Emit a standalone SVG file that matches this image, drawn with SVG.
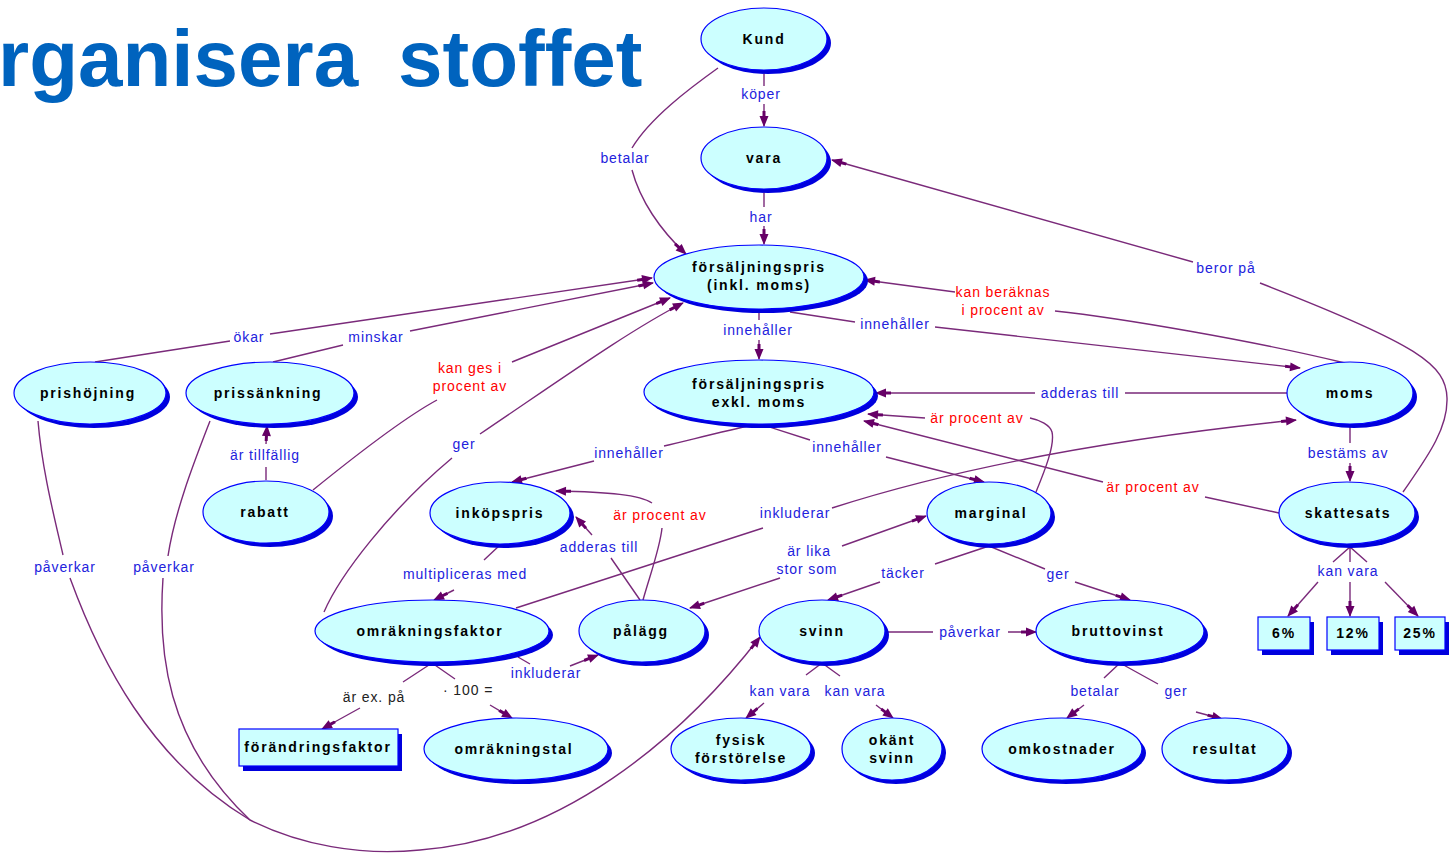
<svg xmlns="http://www.w3.org/2000/svg" width="1452" height="854" viewBox="0 0 1452 854">
<defs>
<marker id="a" viewBox="0 0 16 11" refX="15" refY="5.5" markerWidth="16" markerHeight="11" orient="auto" markerUnits="userSpaceOnUse"><path d="M0,4 L5,4 L5,1 L16,5.5 L5,10 L5,7 L0,7 z" fill="#660066"/></marker>
</defs>
<style>
.sh{fill:#0000dd}
.bg{fill:#ccffff;stroke:#0000ff;stroke-width:1.2}
.t{font-family:"Liberation Sans",Arial,sans-serif;font-weight:bold;font-size:14px;letter-spacing:1.8px;text-anchor:middle;fill:#000}
.l{font-family:"Liberation Sans",Arial,sans-serif;font-size:14px;letter-spacing:0.9px;text-anchor:middle;fill:#2222dd}
.r{fill:#ff0000}
.k{fill:#222}
.c path{fill:none;stroke:#7a2a7a;stroke-width:1.4}
.c path.m{marker-end:url(#a)}
.title{font-family:"Liberation Sans",Arial,sans-serif;font-weight:bold;font-size:80px;fill:#0063be}
</style>
<rect width="1452" height="854" fill="#fff"/>
<text class="title" x="-2" y="86">rganisera</text>
<text class="title" x="398" y="86">stoffet</text>

<g class="c" id="connectors">
<path class="m" d="M764,70 L764,86 M764,104 L764,126"/>
<path class="m" d="M718,68 C690,88 650,118 632,148 M632,170 C640,200 660,230 686,254"/>
<path class="m" d="M764,190 L764,207 M764,226 L764,244"/>
<path class="m" d="M759,309 L759,320 M759,340 L759,359"/>
<path class="m" d="M790,312 L855,322 M935,327 L1300,368"/>
<path class="m" d="M1345,363 C1250,340 1120,318 1055,311 M955,292 L865,280"/>
<path class="m" d="M1403,492 C1425,460 1448,430 1447,398 C1446,365 1420,345 1260,283 M1193,262 L832,160"/>
<path class="m" d="M1287,393 L1125,393 M1035,393 L876,393"/>
<path class="m" d="M1036,492 C1045,470 1055,445 1052,432 C1050,425 1040,420 1030,418 M925,418 L868,414"/>
<path class="m" d="M1279,513 L1205,497 M1103,482 L864,421"/>
<path class="m" d="M1350,425 L1350,443 M1350,463 L1350,481"/>
<path d="M1333,562 L1350,547 L1367,562 M1350,547 L1350,562"/>
<path class="m" d="M1318,582 L1288,616"/>
<path class="m" d="M1350,582 L1350,616"/>
<path class="m" d="M1385,582 L1418,616"/>
<path class="m" d="M757,424 C720,432 690,440 664,446 M594,461 L512,482"/>
<path class="m" d="M760,424 L810,440 M886,457 L984,482"/>
<path class="m" d="M643,600 C650,575 660,548 662,528 M652,503 C640,495 610,492 556,491"/>
<path class="m" d="M640,600 L611,558 M592,535 L576,517"/>
<path class="m" d="M516,608 L763,528 M832,508 C950,470 1100,440 1296,420"/>
<path class="m" d="M500,545 L484,560 M454,590 L434,600"/>
<path class="m" d="M324,612 C340,575 390,510 452,458 M480,434 C560,380 630,330 683,303"/>
<path class="m" d="M313,490 C350,460 400,420 437,400 M512,362 L670,298"/>
<path class="m" d="M95,362 L230,341 M270,334 L652,278"/>
<path class="m" d="M273,362 L343,345 M410,331 L653,283"/>
<path class="m" d="M266,480 L266,467 M266,444 L267,426"/>
<path class="m" d="M38,421 C42,470 55,520 63,555 M70,578 C100,660 150,760 250,820 C300,845 360,856 420,850 C560,840 680,740 760,637"/>
<path d="M210,421 C195,460 175,510 168,556 M163,578 C158,650 165,740 250,820"/>
<path class="m" d="M886,632 L933,632 M1008,632 L1036,632"/>
<path class="m" d="M989,546 L935,564 M880,582 L828,600"/>
<path class="m" d="M989,546 L1045,569 M1075,582 L1130,600"/>
<path class="m" d="M842,546 L926,516"/>
<path class="m" d="M780,578 L690,608"/>
<path class="m" d="M518,657 L530,664 M570,666 L598,655"/>
<path class="m" d="M432,663 L403,682 M360,708 L322,729"/>
<path class="m" d="M432,663 L455,679 M490,705 L512,718"/>
<path class="m" d="M822,663 L806,675 M764,703 L746,718"/>
<path class="m" d="M822,663 L840,676 M876,705 L893,718"/>
<path class="m" d="M1120,663 L1104,678 M1084,705 L1067,718"/>
<path class="m" d="M1120,663 L1158,684 M1196,712 L1222,719"/>
</g>

<g id="link-labels">
<text class="l" x="761" y="99">köper</text>
<text class="l" x="625" y="163">betalar</text>
<text class="l" x="761" y="222">har</text>
<text class="l" x="758" y="335">innehåller</text>
<text class="l" x="895" y="329">innehåller</text>
<text class="l r" x="1003" y="297">kan beräknas</text>
<text class="l r" x="1003" y="315">i procent av</text>
<text class="l" x="1226" y="273">beror på</text>
<text class="l" x="1080" y="398">adderas till</text>
<text class="l r" x="977" y="423">är procent av</text>
<text class="l r" x="1153" y="492">är procent av</text>
<text class="l" x="1348" y="458">bestäms av</text>
<text class="l" x="1348" y="576">kan vara</text>
<text class="l" x="629" y="458">innehåller</text>
<text class="l" x="847" y="452">innehåller</text>
<text class="l r" x="660" y="520">är procent av</text>
<text class="l" x="599" y="552">adderas till</text>
<text class="l" x="795" y="518">inkluderar</text>
<text class="l" x="465" y="579">multipliceras med</text>
<text class="l" x="464" y="449">ger</text>
<text class="l r" x="470" y="373">kan ges i</text>
<text class="l r" x="470" y="391">procent av</text>
<text class="l" x="249" y="342">ökar</text>
<text class="l" x="376" y="342">minskar</text>
<text class="l" x="265" y="460">är tillfällig</text>
<text class="l" x="65" y="572">påverkar</text>
<text class="l" x="164" y="572">påverkar</text>
<text class="l" x="970" y="637">påverkar</text>
<text class="l" x="903" y="578">täcker</text>
<text class="l" x="1058" y="579">ger</text>
<text class="l" x="809" y="556">är lika</text>
<text class="l" x="807" y="574">stor som</text>
<text class="l" x="546" y="678">inkluderar</text>
<text class="l k" x="374" y="702">är ex. på</text>
<text class="l k" x="443" y="695" style="text-anchor:start">·  100 =</text>
<text class="l" x="780" y="696">kan vara</text>
<text class="l" x="855" y="696">kan vara</text>
<text class="l" x="1095" y="696">betalar</text>
<text class="l" x="1176" y="696">ger</text>
</g>

<g id="kund"><ellipse class="sh" cx="768" cy="43" rx="63" ry="31"/><ellipse class="bg" cx="764" cy="39" rx="63" ry="31"/><text class="t" x="764" y="44">Kund</text></g>
<g id="vara"><ellipse class="sh" cx="768" cy="162" rx="63" ry="31"/><ellipse class="bg" cx="764" cy="158" rx="63" ry="31"/><text class="t" x="764" y="163">vara</text></g>
<g id="fp-inkl"><ellipse class="sh" cx="763" cy="281" rx="105" ry="32"/><ellipse class="bg" cx="759" cy="277" rx="105" ry="32"/><text class="t" x="759" y="272">försäljningspris</text><text class="t" x="759" y="290">(inkl. moms)</text></g>
<g id="fp-exkl"><ellipse class="sh" cx="763" cy="396" rx="115" ry="32"/><ellipse class="bg" cx="759" cy="392" rx="115" ry="32"/><text class="t" x="759" y="389">försäljningspris</text><text class="t" x="759" y="407">exkl. moms</text></g>
<g id="prishojning"><ellipse class="sh" cx="94" cy="397" rx="76" ry="31"/><ellipse class="bg" cx="90" cy="393" rx="76" ry="31"/><text class="t" x="88" y="398">prishöjning</text></g>
<g id="prissankning"><ellipse class="sh" cx="274" cy="397" rx="84" ry="31"/><ellipse class="bg" cx="270" cy="393" rx="84" ry="31"/><text class="t" x="268" y="398">prissänkning</text></g>
<g id="moms"><ellipse class="sh" cx="1354" cy="397" rx="63" ry="31"/><ellipse class="bg" cx="1350" cy="393" rx="63" ry="31"/><text class="t" x="1350" y="398">moms</text></g>
<g id="rabatt"><ellipse class="sh" cx="270" cy="516" rx="63" ry="31"/><ellipse class="bg" cx="266" cy="512" rx="63" ry="31"/><text class="t" x="265" y="517">rabatt</text></g>
<g id="inkopspris"><ellipse class="sh" cx="504" cy="517" rx="70" ry="31"/><ellipse class="bg" cx="500" cy="513" rx="70" ry="31"/><text class="t" x="500" y="518">inköpspris</text></g>
<g id="marginal"><ellipse class="sh" cx="993" cy="517" rx="62" ry="31"/><ellipse class="bg" cx="989" cy="513" rx="62" ry="31"/><text class="t" x="991" y="518">marginal</text></g>
<g id="skattesats"><ellipse class="sh" cx="1351" cy="517" rx="68" ry="31"/><ellipse class="bg" cx="1347" cy="513" rx="68" ry="31"/><text class="t" x="1348" y="518">skattesats</text></g>
<g id="omrakningsfaktor"><ellipse class="sh" cx="436" cy="635" rx="117" ry="31"/><ellipse class="bg" cx="432" cy="631" rx="117" ry="31"/><text class="t" x="430" y="636">omräkningsfaktor</text></g>
<g id="palagg"><ellipse class="sh" cx="646" cy="635" rx="63" ry="31"/><ellipse class="bg" cx="642" cy="631" rx="63" ry="31"/><text class="t" x="641" y="636">pålägg</text></g>
<g id="svinn"><ellipse class="sh" cx="826" cy="635" rx="63" ry="31"/><ellipse class="bg" cx="822" cy="631" rx="63" ry="31"/><text class="t" x="822" y="636">svinn</text></g>
<g id="bruttovinst"><ellipse class="sh" cx="1124" cy="635" rx="84" ry="31"/><ellipse class="bg" cx="1120" cy="631" rx="84" ry="31"/><text class="t" x="1118" y="636">bruttovinst</text></g>
<g id="omrakningstal"><ellipse class="sh" cx="520" cy="753" rx="92" ry="31"/><ellipse class="bg" cx="516" cy="749" rx="92" ry="31"/><text class="t" x="514" y="754">omräkningstal</text></g>
<g id="fysisk"><ellipse class="sh" cx="745" cy="753" rx="70" ry="31"/><ellipse class="bg" cx="741" cy="749" rx="70" ry="31"/><text class="t" x="741" y="745">fysisk</text><text class="t" x="741" y="763">förstörelse</text></g>
<g id="okant"><ellipse class="sh" cx="896" cy="753" rx="50" ry="31"/><ellipse class="bg" cx="892" cy="749" rx="50" ry="31"/><text class="t" x="892" y="745">okänt</text><text class="t" x="892" y="763">svinn</text></g>
<g id="omkostnader"><ellipse class="sh" cx="1066" cy="753" rx="80" ry="31"/><ellipse class="bg" cx="1062" cy="749" rx="80" ry="31"/><text class="t" x="1062" y="754">omkostnader</text></g>
<g id="resultat"><ellipse class="sh" cx="1229" cy="753" rx="63" ry="31"/><ellipse class="bg" cx="1225" cy="749" rx="63" ry="31"/><text class="t" x="1225" y="754">resultat</text></g>
<g id="forandringsfaktor"><rect class="sh" x="243" y="734" width="159" height="37"/><rect class="bg" x="239" y="729" width="159" height="37"/><text class="t" x="318" y="752">förändringsfaktor</text></g>
<g id="p6"><rect class="sh" x="1262" y="622" width="52" height="33"/><rect class="bg" x="1258" y="617" width="52" height="33"/><text class="t" x="1284" y="638">6%</text></g>
<g id="p12"><rect class="sh" x="1331" y="622" width="52" height="33"/><rect class="bg" x="1327" y="617" width="52" height="33"/><text class="t" x="1353" y="638">12%</text></g>
<g id="p25"><rect class="sh" x="1399" y="622" width="50" height="33"/><rect class="bg" x="1395" y="617" width="50" height="33"/><text class="t" x="1420" y="638">25%</text></g>
</svg>
